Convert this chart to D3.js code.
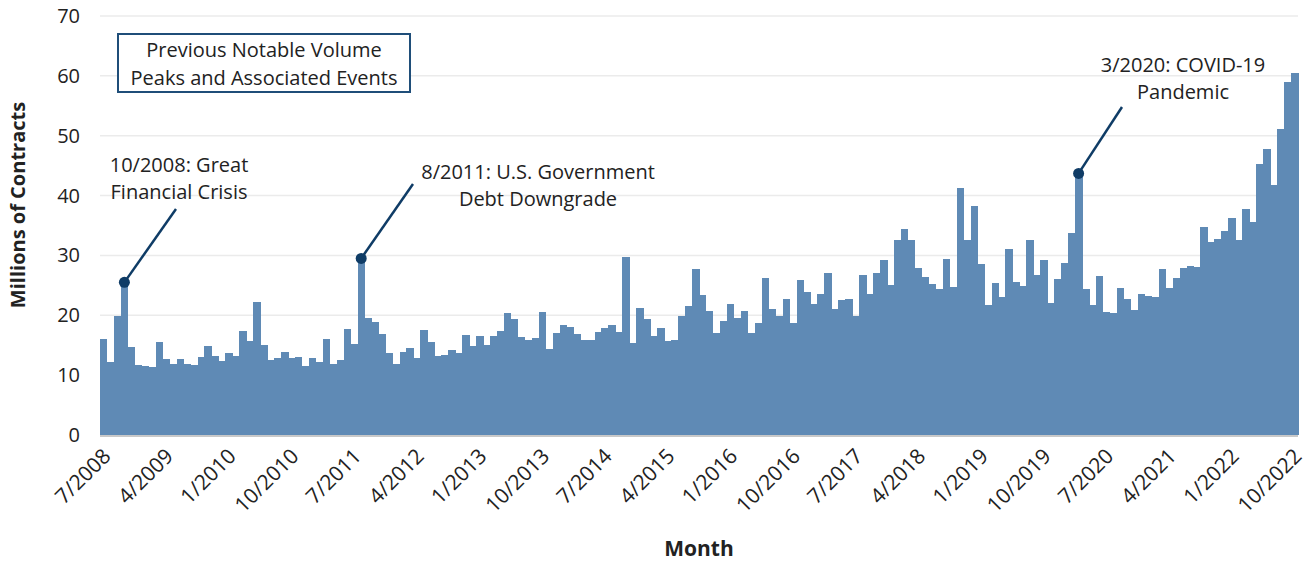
<!DOCTYPE html>
<html lang="en">
<head>
<meta charset="UTF-8">
<title>Monthly Volume</title>
<script src="https://d3js.org/d3.v7.min.js"></script>
<style>
  body { margin: 0; background: white; font-family: "Open Sans", "Noto Sans", Arial, sans-serif; }
  svg { display: block; }
</style>
</head>
<body>
<svg width="1307" height="563"></svg>
<script>
// monthly volume, millions of contracts, 7/2008 .. 10/2022
const values = [
  16.0, 12.2, 19.9, 25.5, 14.7, 11.7, 11.6, 11.4, 15.6, 12.7, 11.9, 12.7, 11.9, 11.7, 13.1, 14.9, 13.2, 12.4,
  13.7, 13.2, 17.3, 15.7, 22.2, 15.0, 12.5, 12.8, 13.8, 12.9, 13.1, 11.6, 12.8, 12.2, 16.1, 11.9, 12.5, 17.7,
  15.2, 29.5, 19.6, 18.8, 16.9, 13.7, 11.9, 13.9, 14.6, 12.9, 17.6, 15.6, 13.2, 13.4, 14.2, 13.7, 16.7, 14.9,
  16.6, 15.1, 16.6, 17.4, 20.3, 19.3, 16.3, 15.9, 16.2, 20.6, 14.4, 17.1, 18.3, 18.1, 16.9, 15.9, 15.8, 17.2,
  17.8, 18.4, 17.2, 29.8, 15.4, 21.2, 19.3, 16.6, 17.8, 15.7, 15.8, 19.9, 21.6, 27.7, 23.4, 20.7, 17.1, 19.1,
  21.9, 19.5, 20.7, 17.1, 18.7, 26.2, 21.1, 19.8, 22.7, 18.7, 25.9, 23.9, 21.9, 23.5, 27.1, 21.0, 22.5, 22.7,
  19.9, 26.7, 23.6, 27.0, 29.2, 25.1, 32.5, 34.4, 32.5, 27.9, 26.4, 25.3, 24.4, 29.4, 24.7, 41.2, 32.5, 38.3,
  28.6, 21.8, 25.4, 23.1, 31.1, 25.6, 24.9, 32.6, 26.8, 29.2, 22.1, 26.0, 28.8, 33.8, 43.7, 24.4, 21.7, 26.6,
  20.6, 20.4, 24.6, 22.7, 20.9, 23.5, 23.3, 23.0, 27.7, 24.5, 26.3, 27.9, 28.3, 28.1, 34.8, 32.2, 32.8, 34.1,
  36.3, 32.5, 37.8, 35.6, 45.3, 47.7, 41.8, 51.1, 59.0, 60.5
];
const startYear = 2008, startMonth = 7;
const months = values.map((_, i) => {
  const m = (startMonth - 1 + i) % 12 + 1;
  const y = startYear + Math.floor((startMonth - 1 + i) / 12);
  return m + "/" + y;
});
const tickLabels = ["7/2008", "4/2009", "1/2010", "10/2010", "7/2011", "4/2012", "1/2013", "10/2013",
  "7/2014", "4/2015", "1/2016", "10/2016", "7/2017", "4/2018", "1/2019", "10/2019", "7/2020",
  "4/2021", "1/2022", "10/2022"];
const yTicks = [0, 10, 20, 30, 40, 50, 60, 70];

const notes = [
  { month: "10/2008", lines: ["10/2008: Great", "Financial Crisis"], tx: 179, ty: 172, lx: 176, ly: 209 },
  { month: "8/2011", lines: ["8/2011: U.S. Government", "Debt Downgrade"], tx: 538, ty: 179, lx: 413, ly: 184 },
  { month: "3/2020", lines: ["3/2020: COVID-19", "Pandemic"], tx: 1183, ty: 72, lx: 1122, ly: 107 }
];

const svg = d3.select("svg");
const mLeft = 100, mRight = 1298, mTop = 16, mBottom = 435;

const x = d3.scaleBand().domain(months).range([mLeft, mRight]).padding(0);
const y = d3.scaleLinear().domain([0, 70]).range([mBottom, mTop]);

// gridlines
svg.append("g").selectAll("line").data(yTicks.slice(1)).join("line")
  .attr("x1", mLeft).attr("x2", mRight)
  .attr("y1", d => y(d)).attr("y2", d => y(d))
  .attr("stroke", "#ebebeb").attr("stroke-width", 1.5);

// bars
svg.append("g").attr("shape-rendering", "crispEdges")
  .selectAll("rect").data(values).join("rect")
  .attr("x", (d, i) => x(months[i]))
  .attr("width", x.bandwidth() + 0.5)
  .attr("y", d => y(d))
  .attr("height", d => y(0) - y(d))
  .attr("fill", "#5f8ab5");

// baseline
svg.append("line").attr("x1", mLeft).attr("x2", mRight)
  .attr("y1", y(0) + 1).attr("y2", y(0) + 1)
  .attr("stroke", "#c8c8c8").attr("stroke-width", 2);

// y axis labels
svg.append("g").selectAll("text").data(yTicks).join("text")
  .attr("x", 80).attr("y", d => y(d)).attr("dy", "0.35em")
  .attr("text-anchor", "end").attr("font-size", 20).attr("fill", "#222")
  .text(d => d);

svg.append("text")
  .attr("transform", "translate(25,205) rotate(-90)")
  .attr("text-anchor", "middle").attr("font-size", 20).attr("font-weight", "bold").attr("fill", "#222")
  .text("Millions of Contracts");

// x axis labels
svg.append("g").selectAll("text").data(tickLabels).join("text")
  .attr("transform", d => `translate(${x(d) + x.bandwidth() / 2 - 2},${mBottom + 12}) rotate(-45)`)
  .attr("text-anchor", "end").attr("dy", "0.7em").attr("font-size", 21).attr("fill", "#222")
  .text(d => d);

svg.append("text")
  .attr("x", (mLeft + mRight) / 2).attr("y", 556)
  .attr("text-anchor", "middle").attr("font-size", 21).attr("font-weight", "bold").attr("fill", "#222")
  .text("Month");

// legend box
svg.append("rect").attr("x", 118).attr("y", 34).attr("width", 292).attr("height", 58)
  .attr("fill", "white").attr("stroke", "#1f4e79").attr("stroke-width", 2);
svg.append("text").attr("text-anchor", "middle")
  .attr("font-size", 20).attr("fill", "#222")
  .selectAll("tspan").data(["Previous Notable Volume", "Peaks and Associated Events"]).join("tspan")
  .attr("x", 264).attr("y", (d, i) => 57 + i * 28).text(d => d);

// annotations
const ann = svg.append("g");
notes.forEach(n => {
  const i = months.indexOf(n.month);
  const cx = x(n.month) + x.bandwidth() / 2, cy = y(values[i]);
  ann.append("line").attr("x1", cx).attr("y1", cy).attr("x2", n.lx).attr("y2", n.ly)
    .attr("stroke", "#0f3c66").attr("stroke-width", 2.5);
  ann.append("circle").attr("cx", cx).attr("cy", cy).attr("r", 5.5).attr("fill", "#0f3c66");
  ann.append("text").attr("text-anchor", "middle").attr("font-size", 20).attr("fill", "#222")
    .selectAll("tspan").data(n.lines).join("tspan")
    .attr("x", n.tx).attr("y", (d, k) => n.ty + k * 27).text(d => d);
});
</script>
</body>
</html>
